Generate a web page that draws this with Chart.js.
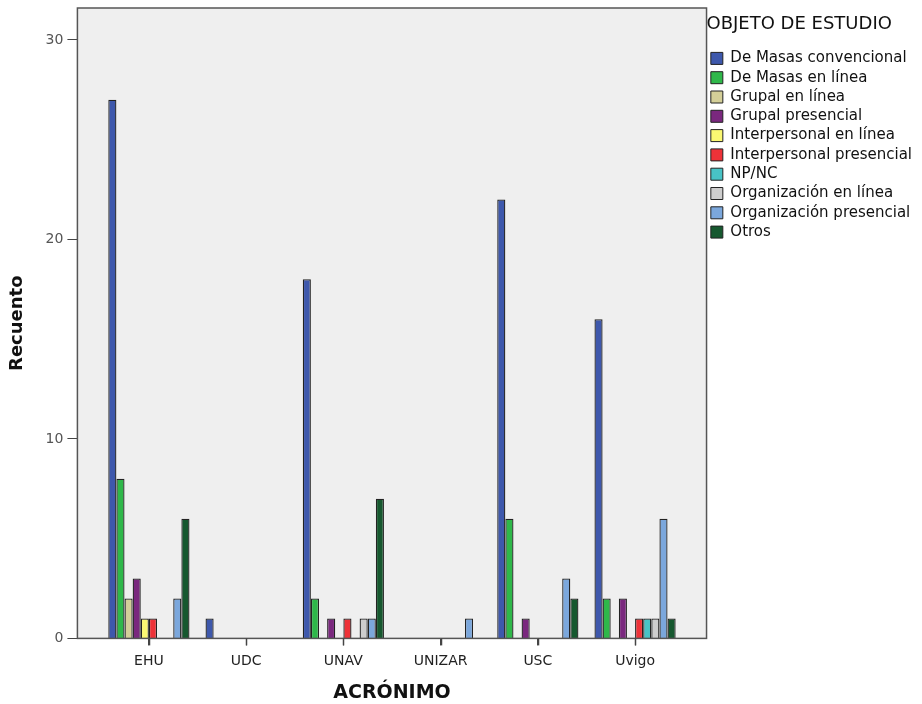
<!DOCTYPE html>
<html>
<head>
<meta charset="utf-8">
<script src="https://cdn.jsdelivr.net/npm/chart.js@4.4.1/dist/chart.umd.min.js"></script>
<style>
  html, body { margin: 0; padding: 0; background: #fff; }
  #chart { display: block; }
</style>
</head>
<body>
<canvas id="chart" width="922" height="704"></canvas>
<script>
var acronimos = ["EHU", "UDC", "UNAV", "UNIZAR", "USC", "Uvigo"];

var deMasasConvencional = [27, 1, 18, 0, 22, 16];
var deMasasEnLinea = [8, 0, 2, 0, 6, 2];
var grupalEnLinea = [2, 0, 0, 0, 0, 0];
var grupalPresencial = [3, 0, 1, 0, 1, 2];
var interpersonalEnLinea = [1, 0, 0, 0, 0, 0];
var interpersonalPresencial = [1, 0, 1, 0, 0, 1];
var npNc = [0, 0, 0, 0, 0, 1];
var organizacionEnLinea = [0, 0, 1, 0, 0, 1];
var organizacionPresencial = [2, 0, 1, 1, 3, 6];
var otros = [6, 0, 7, 0, 2, 1];

var yTicks = [0, 10, 20, 30];

var series = [
  ["De Masas convencional", deMasasConvencional, "#3e58ac"],
  ["De Masas en línea", deMasasEnLinea, "#2fb84a"],
  ["Grupal en línea", grupalEnLinea, "#d4cf98"],
  ["Grupal presencial", grupalPresencial, "#7a287e"],
  ["Interpersonal en línea", interpersonalEnLinea, "#fbf872"],
  ["Interpersonal presencial", interpersonalPresencial, "#ee3238"],
  ["NP/NC", npNc, "#48c3c6"],
  ["Organización en línea", organizacionEnLinea, "#cdcdcd"],
  ["Organización presencial", organizacionPresencial, "#7ba7dc"],
  ["Otros", otros, "#16582f"]
];

var datasets = series.map(function (s) {
  return {
    label: s[0],
    data: s[1].map(function (v, i) { return { x: i, y: v === 0 ? null : v }; }),
    backgroundColor: s[2],
    borderColor: "#222",
    borderWidth: 1.3,
    borderSkipped: "start",
    categoryPercentage: 0.835,
    barPercentage: 1
  };
});

// grey plot box with a frame, like the SPSS output
var plotBox = {
  id: "plotBox",
  beforeDraw: function (chart) {
    var a = chart.chartArea, ctx = chart.ctx;
    ctx.save();
    ctx.fillStyle = "#efefef";
    ctx.fillRect(a.left, a.top, a.right - a.left, a.bottom - a.top);
    ctx.restore();
  },
  afterDatasetsDraw: function (chart) {
    var a = chart.chartArea, ctx = chart.ctx, xs = chart.scales.x;
    ctx.save();
    ctx.strokeStyle = "#555";
    ctx.lineWidth = 1.5;
    ctx.strokeRect(a.left, a.top, a.right - a.left, a.bottom - a.top);
    // category tick marks under the axis
    ctx.strokeStyle = "#444";
    ctx.lineWidth = 1.5;
    xs.ticks.forEach(function (t) {
      var px = Math.round(xs.getPixelForValue(t.value)) + 0.5;
      ctx.beginPath();
      ctx.moveTo(px, a.bottom);
      ctx.lineTo(px, a.bottom + 7);
      ctx.stroke();
    });
    ctx.restore();
  }
};

new Chart(document.getElementById("chart"), {
  type: "bar",
  data: { datasets: datasets },
  plugins: [plotBox],
  options: {
    responsive: false,
    animation: false,
    layout: { padding: { left: 0, top: 8, right: 0, bottom: 0 } },
    plugins: {
      tooltip: { enabled: false },
      legend: {
        position: "right",
        align: "start",
        title: {
          display: true,
          position: "start",
          text: "OBJETO DE ESTUDIO",
          color: "#111",
          font: { family: "DejaVu Sans", size: 18 },
          padding: { top: 7, bottom: 10 }
        },
        labels: {
          boxWidth: 12,
          boxHeight: 12,
          padding: 4.3,
          color: "#111",
          font: { family: "DejaVu Sans", size: 15 },
          generateLabels: function (chart) {
            return chart.data.datasets.map(function (d, i) {
              return {
                text: d.label,
                fillStyle: d.backgroundColor,
                strokeStyle: "#222",
                lineWidth: 1,
                datasetIndex: i
              };
            });
          }
        }
      }
    },
    scales: {
      x: {
        type: "linear",
        min: -0.735,
        max: 5.735,
        offset: false,
        grid: { display: true, offset: false, drawOnChartArea: false, drawTicks: true, tickLength: 7, color: "#444" },
        border: { display: false },
        ticks: {
          stepSize: 1,
          includeBounds: false,
          color: "#222",
          padding: 8,
          font: { family: "DejaVu Sans", size: 14 },
          callback: function (v) { return acronimos[v]; }
        },
        title: {
          display: true,
          text: "ACRÓNIMO",
          color: "#111",
          font: { family: "DejaVu Sans", size: 19, weight: "bold" },
          padding: { top: 3, bottom: 0 }
        }
      },
      y: {
        min: 0,
        max: 31.6,
        grid: { display: true, drawOnChartArea: false, drawTicks: true, tickLength: 10, color: "#444" },
        border: { display: false },
        afterBuildTicks: function (axis) {
          axis.ticks = yTicks.map(function (v) { return { value: v }; });
        },
        afterFit: function (axis) {
          axis.paddingTop = 0;
          axis.paddingBottom = 0;
        },
        ticks: {
          color: "#555",
          padding: 4,
          font: { family: "DejaVu Sans", size: 14 }
        },
        title: {
          display: true,
          text: "Recuento",
          color: "#111",
          font: { family: "DejaVu Sans", size: 18, weight: "bold" },
          padding: { top: 7, bottom: 13 }
        }
      }
    }
  }
});
</script>
</body>
</html>
